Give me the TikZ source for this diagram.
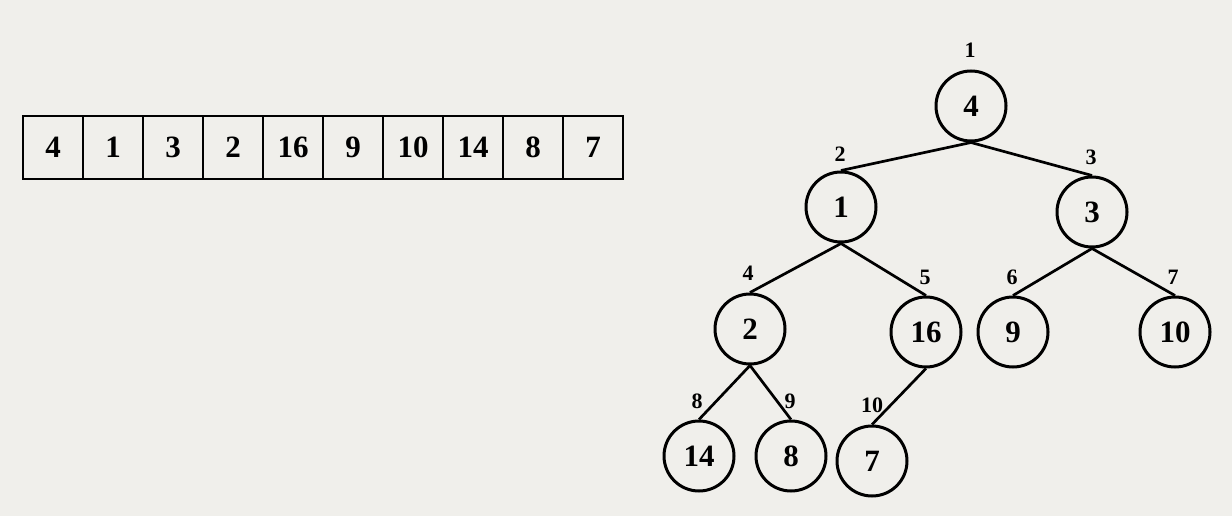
\documentclass[tikz,border=0pt]{standalone}
\usepackage{fontspec}
\setmainfont{Liberation Serif}
\definecolor{bgc}{RGB}{240,239,235}
\tikzset{
  cell/.style={draw, line width=1.8pt, minimum width=60pt, minimum height=63pt, inner sep=0pt, font=\fontsize{31}{36}\selectfont\bfseries},
  heapnode/.style={circle, draw, line width=3pt, minimum size=70pt, inner sep=0pt, font=\fontsize{31}{36}\selectfont\bfseries},
  idx/.style={inner sep=0pt, font=\fontsize{22}{26}\selectfont\bfseries},
  edge/.style={line width=2.7pt}
}
\begin{document}
\begin{tikzpicture}[x=1pt,y=-1pt]
\fill[bgc] (0,0) rectangle (1232,516);
\useasboundingbox (0,0) rectangle (1232,516);
% array
\foreach \v [count=\i] in {4,1,3,2,16,9,10,14,8,7}{
  \node[cell] (a\i) at ({23+60*(\i-1)+30},147.5) {\v};
}
% heap
\node[heapnode] (n1) at (971,106) {4};
\node[heapnode] (n2) at (841,207) {1};
\node[heapnode] (n3) at (1092,212) {3};
\node[heapnode] (n4) at (750,329) {2};
\node[heapnode] (n5) at (926,332) {16};
\node[heapnode] (n6) at (1013,332) {9};
\node[heapnode] (n7) at (1175,332) {10};
\node[heapnode] (n8) at (699,456) {14};
\node[heapnode] (n9) at (791,456) {8};
\node[heapnode] (n10) at (872,461) {7};
% indices
\node[idx] (i1) at (970,50) {1};
\node[idx] (i2) at (840,154) {2};
\node[idx] (i3) at (1091,157) {3};
\node[idx] (i4) at (748,273) {4};
\node[idx] (i5) at (925,277) {5};
\node[idx] (i6) at (1012,277) {6};
\node[idx] (i7) at (1173,277) {7};
\node[idx] (i8) at (697,401) {8};
\node[idx] (i9) at (790,401) {9};
\node[idx] (i10) at (872,405) {10};
% edges
\draw[edge] (n1.south) -- (n2.north);
\draw[edge] (n1.south) -- (n3.north);
\draw[edge] (n2.south) -- (n4.north);
\draw[edge] (n2.south) -- (n5.north);
\draw[edge] (n3.south) -- (n6.north);
\draw[edge] (n3.south) -- (n7.north);
\draw[edge] (n4.south) -- (n8.north);
\draw[edge] (n4.south) -- (n9.north);
\draw[edge] (n5.south) -- (n10.north);
\end{tikzpicture}
\end{document}
